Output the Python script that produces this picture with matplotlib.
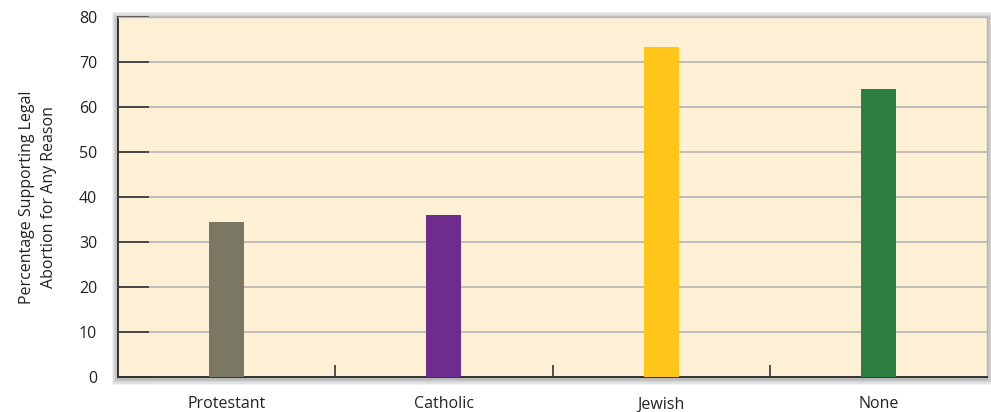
import matplotlib
matplotlib.use("Agg")
import matplotlib.pyplot as plt
from matplotlib.patches import Rectangle

categories = ["Protestant", "Catholic", "Jewish", "None"]
values = [34.4, 36.1, 73.4, 64.1]
colors = ["#7a7862", "#6e2c8c", "#ffc519", "#2c7e41"]
yticks = [0, 10, 20, 30, 40, 50, 60, 70, 80]
ylabel = "Percentage Supporting Legal\nAbortion for Any Reason"

plt.rcParams['font.family'] = ['Open Sans', 'DejaVu Sans']

fig = plt.figure(figsize=(9.91, 4.12), dpi=100)
ax = fig.add_axes([118/991, 1-377/412, (987-118)/991, (377-17)/412])
ax.set_zorder(5)

# drop shadow behind the plot area
for i in range(5):
    off = (i + 1) * 1.3
    fig.patches.append(Rectangle((118/991 - off/991, (412-377)/412 - off/412 - 1.5/412),
                                 (987-118)/991 + 2*off/991, (377-17)/412 + 2*off/412,
                                 transform=fig.transFigure, facecolor="black",
                                 alpha=0.06, edgecolor="none", zorder=0))

ax.set_facecolor("#fef0d4")
x = list(range(len(categories)))
ax.bar(x, values, width=0.16, color=colors, zorder=3)

ax.set_xlim(-0.5, 3.5)
ax.set_ylim(0, 80)
ax.set_yticks(yticks)
ax.yaxis.grid(True, color="#b5b5b5", linewidth=1.2, zorder=1)
ax.set_axisbelow(True)
ax.tick_params(axis="y", direction="in", length=22, width=1.2, color="#333333",
               labelsize=11.5, pad=15, labelcolor="#222222")

ax.set_xticks(x)
ax.set_xticklabels(categories)
ax.set_xticks([0.5, 1.5, 2.5], minor=True)
ax.tick_params(axis="x", which="major", length=0, pad=14, labelsize=11.5, labelcolor="#222222")
ax.tick_params(axis="x", which="minor", direction="in", length=9, width=1.2, color="#333333")

for s in ["left", "bottom"]:
    ax.spines[s].set_color("#333333")
    ax.spines[s].set_linewidth(1.4)
ax.spines["top"].set_color("#b5b5b5")
ax.spines["right"].set_color("#b5b5b5")
ax.spines["top"].set_linewidth(1.0)
ax.spines["right"].set_linewidth(1.0)

ax.set_ylabel(ylabel, fontsize=11.5, color="#222222", labelpad=16, linespacing=1.45)

fig.savefig("out.png", dpi=100, facecolor="white")
